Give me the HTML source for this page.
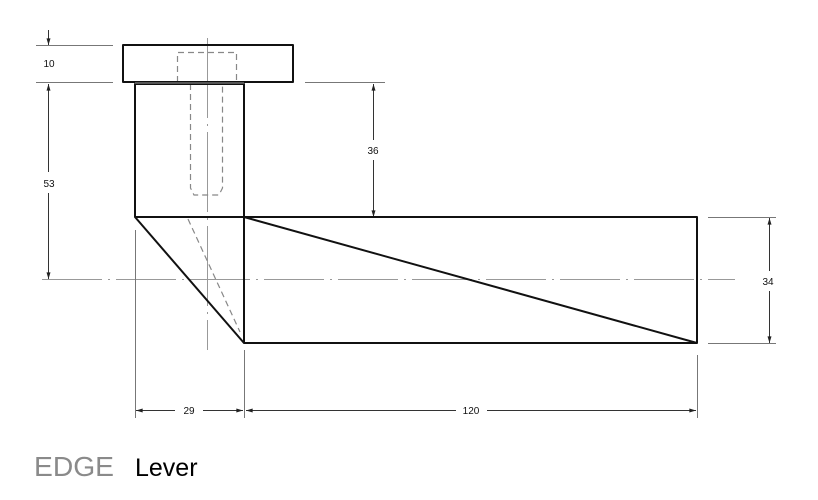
<!DOCTYPE html>
<html><head><meta charset="utf-8"><style>
html,body{margin:0;padding:0;background:#fff;}
svg{display:block;}
text{font-family:"Liberation Sans",Arial,sans-serif;}
</style></head><body>
<svg width="818" height="500" viewBox="0 0 818 500" xmlns="http://www.w3.org/2000/svg">
<defs>
<marker id="a" viewBox="0 0 10 6" refX="10" refY="3" markerWidth="7" markerHeight="4" orient="auto-start-reverse" markerUnits="userSpaceOnUse"><path d="M0,0 L10,3 L0,6 z" fill="#222"/></marker>
</defs>
<!-- centerlines -->
<g stroke="#999" stroke-width="1" fill="none">
<line x1="42" y1="279.5" x2="735" y2="279.5" stroke-dasharray="60,6,2,6"/>
<line x1="207.5" y1="38" x2="207.5" y2="350" stroke-dasharray="80,6,2,6"/>
</g>
<!-- extension lines -->
<g stroke="#777" stroke-width="1" fill="none">
<line x1="36" y1="45.5" x2="113" y2="45.5"/>
<line x1="36" y1="82.5" x2="113" y2="82.5"/>
<line x1="305" y1="82.5" x2="385" y2="82.5"/>
<line x1="708" y1="217.5" x2="776" y2="217.5"/>
<line x1="708" y1="343.5" x2="776" y2="343.5"/>
<line x1="135.5" y1="230" x2="135.5" y2="418"/>
<line x1="244.5" y1="350" x2="244.5" y2="418"/>
<line x1="697.5" y1="355" x2="697.5" y2="418"/>
</g>
<!-- dimension lines -->
<g stroke="#333" stroke-width="1" fill="none">
<line x1="48.5" y1="30" x2="48.5" y2="45" marker-end="url(#a)"/>
<line x1="48.5" y1="84" x2="48.5" y2="172" marker-start="url(#a)"/>
<line x1="48.5" y1="193" x2="48.5" y2="279" marker-end="url(#a)"/>
<line x1="373.5" y1="84" x2="373.5" y2="140" marker-start="url(#a)"/>
<line x1="373.5" y1="160" x2="373.5" y2="217" marker-end="url(#a)"/>
<line x1="769.5" y1="218" x2="769.5" y2="271" marker-start="url(#a)"/>
<line x1="769.5" y1="291" x2="769.5" y2="343" marker-end="url(#a)"/>
<line x1="136" y1="410.5" x2="175" y2="410.5" marker-start="url(#a)"/>
<line x1="203" y1="410.5" x2="243" y2="410.5" marker-end="url(#a)"/>
<line x1="246" y1="410.5" x2="456" y2="410.5" marker-start="url(#a)"/>
<line x1="487" y1="410.5" x2="696" y2="410.5" marker-end="url(#a)"/>
</g>
<g font-size="10" fill="#111" text-anchor="middle">
<text x="49" y="67">10</text>
<text x="49" y="187">53</text>
<text x="373" y="154">36</text>
<text x="768" y="285">34</text>
<text x="189" y="414">29</text>
<text x="471" y="414">120</text>
</g>
<!-- hidden lines -->
<g stroke="#888" stroke-width="1.2" fill="none" stroke-dasharray="6,4">
<path d="M177.5,82 V52.5 H236.5 V82"/>
<path d="M190.5,84 V188 L194,195 H219 L222.5,188 V84"/>
<line x1="188" y1="219" x2="240" y2="332"/>
</g>
<!-- object lines -->
<g stroke="#111" stroke-width="2" fill="none" stroke-linejoin="round">
<rect x="123" y="45" width="170" height="37"/>
<rect x="135" y="84" width="109" height="133"/>
<line x1="135" y1="217" x2="244" y2="343"/>
<rect x="244" y="217" width="453" height="126"/>
<line x1="244" y1="217" x2="697" y2="343"/>
</g>
<line x1="135" y1="83" x2="244" y2="83" stroke="#555" stroke-width="2"/>
<text x="34" y="476" font-size="28" fill="#8a8a8a" textLength="80" lengthAdjust="spacingAndGlyphs">EDGE</text>
<text x="135" y="476" font-size="25" fill="#000">Lever</text>
</svg>
</body></html>
